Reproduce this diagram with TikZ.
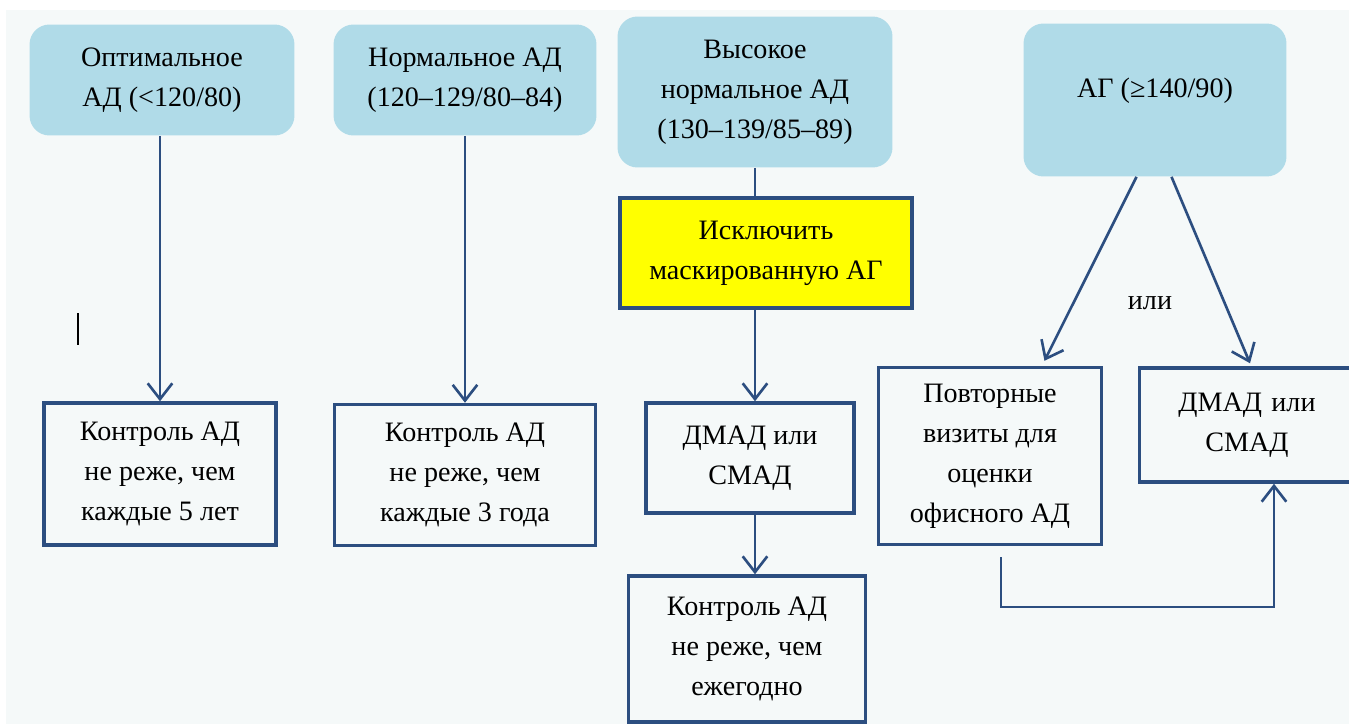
\documentclass[tikz,border=0pt]{standalone}
\usepackage{fontspec}
\setmainfont{Liberation Serif}
\newfontfamily\diagfont{Liberation Serif}
\usetikzlibrary{arrows.meta,positioning}
\definecolor{bgcolor}{RGB}{245,249,249}
\definecolor{levelcolor}{RGB}{176,219,232}
\definecolor{linecolor}{RGB}{44,78,128}
\definecolor{warncolor}{RGB}{255,255,0}
\tikzset{
	level/.style={rounded corners=0.4cm, fill=levelcolor, align=center, inner sep=2pt, font=\diagfont\fontsize{16}{22.7}\selectfont},
	action/.style={draw=linecolor, line width=2pt, fill=bgcolor, align=center, inner sep=2pt, font=\diagfont\fontsize{16}{22.7}\selectfont},
	link/.style={draw=linecolor, line width=1.5pt, -{Straight Barb[length=9pt,width=14pt]}},
}

\begin{document}
\begin{tikzpicture}[x=0.02cm, y=-0.02cm]

				\useasboundingbox (0,0) rectangle (1349,724);
				\clip (0,0) rectangle (1349,724);
				\fill[bgcolor] (6,10) rectangle (1349,724);
				
				\node[level, minimum width=5.3cm, minimum height=2.22cm] (optimal) at (162,80) {Оптимальное\\АД (<120/80)};
				\node[level, minimum width=5.26cm, minimum height=2.22cm] (normal) at (465,80) {Нормальное АД\\(120–129/80–84)};
				\node[level, minimum width=5.5cm, minimum height=3.02cm] (high) at (755,92) {Высокое\\нормальное АД\\(130–139/85–89)};
				\node[level, minimum width=5.26cm, minimum height=3.06cm, text depth=0.5cm] (ag) at (1155,100) {АГ (≥140/90)};
				
				\node[action, fill=warncolor, minimum width=5.84cm, minimum height=2.2cm] (masked) at (766,253) {Исключить\\маскированную АГ};
				
				\node[action, minimum width=4.64cm, minimum height=2.84cm] (control5) at (160,474) {Контроль АД\\не реже, чем\\каждые 5 лет};
				\node[action, minimum width=5.22cm, minimum height=2.82cm] (control3) at (465,475) {Контроль АД\\не реже, чем\\каждые 3 года};
				\node[action, minimum width=4.16cm, minimum height=2.2cm] (dmad) at (750,458) {ДМАД или\\СМАД};
				\node[action, minimum width=4.74cm, minimum height=2.92cm] (control1) at (747,649) {Контроль АД\\не реже, чем\\ежегодно};
				\node[action, minimum width=4.46cm, minimum height=3.54cm] (visits) at (990,456) {Повторные\\визиты для\\оценки\\офисного АД};
				\node[action, minimum width=4.3cm, minimum height=2.28cm, text width=3.5cm] (dmadag) at (1247,425) {ДМАД или\\СМАД\hspace*{0.5cm}};
				
				\node[font=\diagfont\fontsize{16}{22.7}\selectfont] (or) at (1150,303) {или};
				
				\coordinate (loopstart) at (1001,557);
				\coordinate (loopend) at (1274,0);
				
				\path[link] (optimal.south -| control5.north) -- (control5.north);
				\path[link] (normal.south) -- (control3.north);
				\draw[draw=linecolor, line width=1.5pt] (high.south) -- (masked.north -| high.south);
				\path[link] (masked.south -| high.south) -- (dmad.north -| high.south);
				\path[link] (dmad.south -| high.south) -- (control1.north -| high.south);
				
				\path[link] ([xshift=-0.37cm]ag.south) -- ([xshift=1.09cm, yshift=0.1cm]visits.north);
				\path[link] ([xshift=0.33cm]ag.south) -- ([xshift=0.06cm, yshift=0.06cm]dmadag.north);
				
				\path[link] (loopstart) -- ++(0,50) -| (dmadag.south -| loopend);
				
				% stray cursor mark
				\draw[black, line width=0.6pt] (78,313) -- (78,345);
				
\end{tikzpicture}
\end{document}
